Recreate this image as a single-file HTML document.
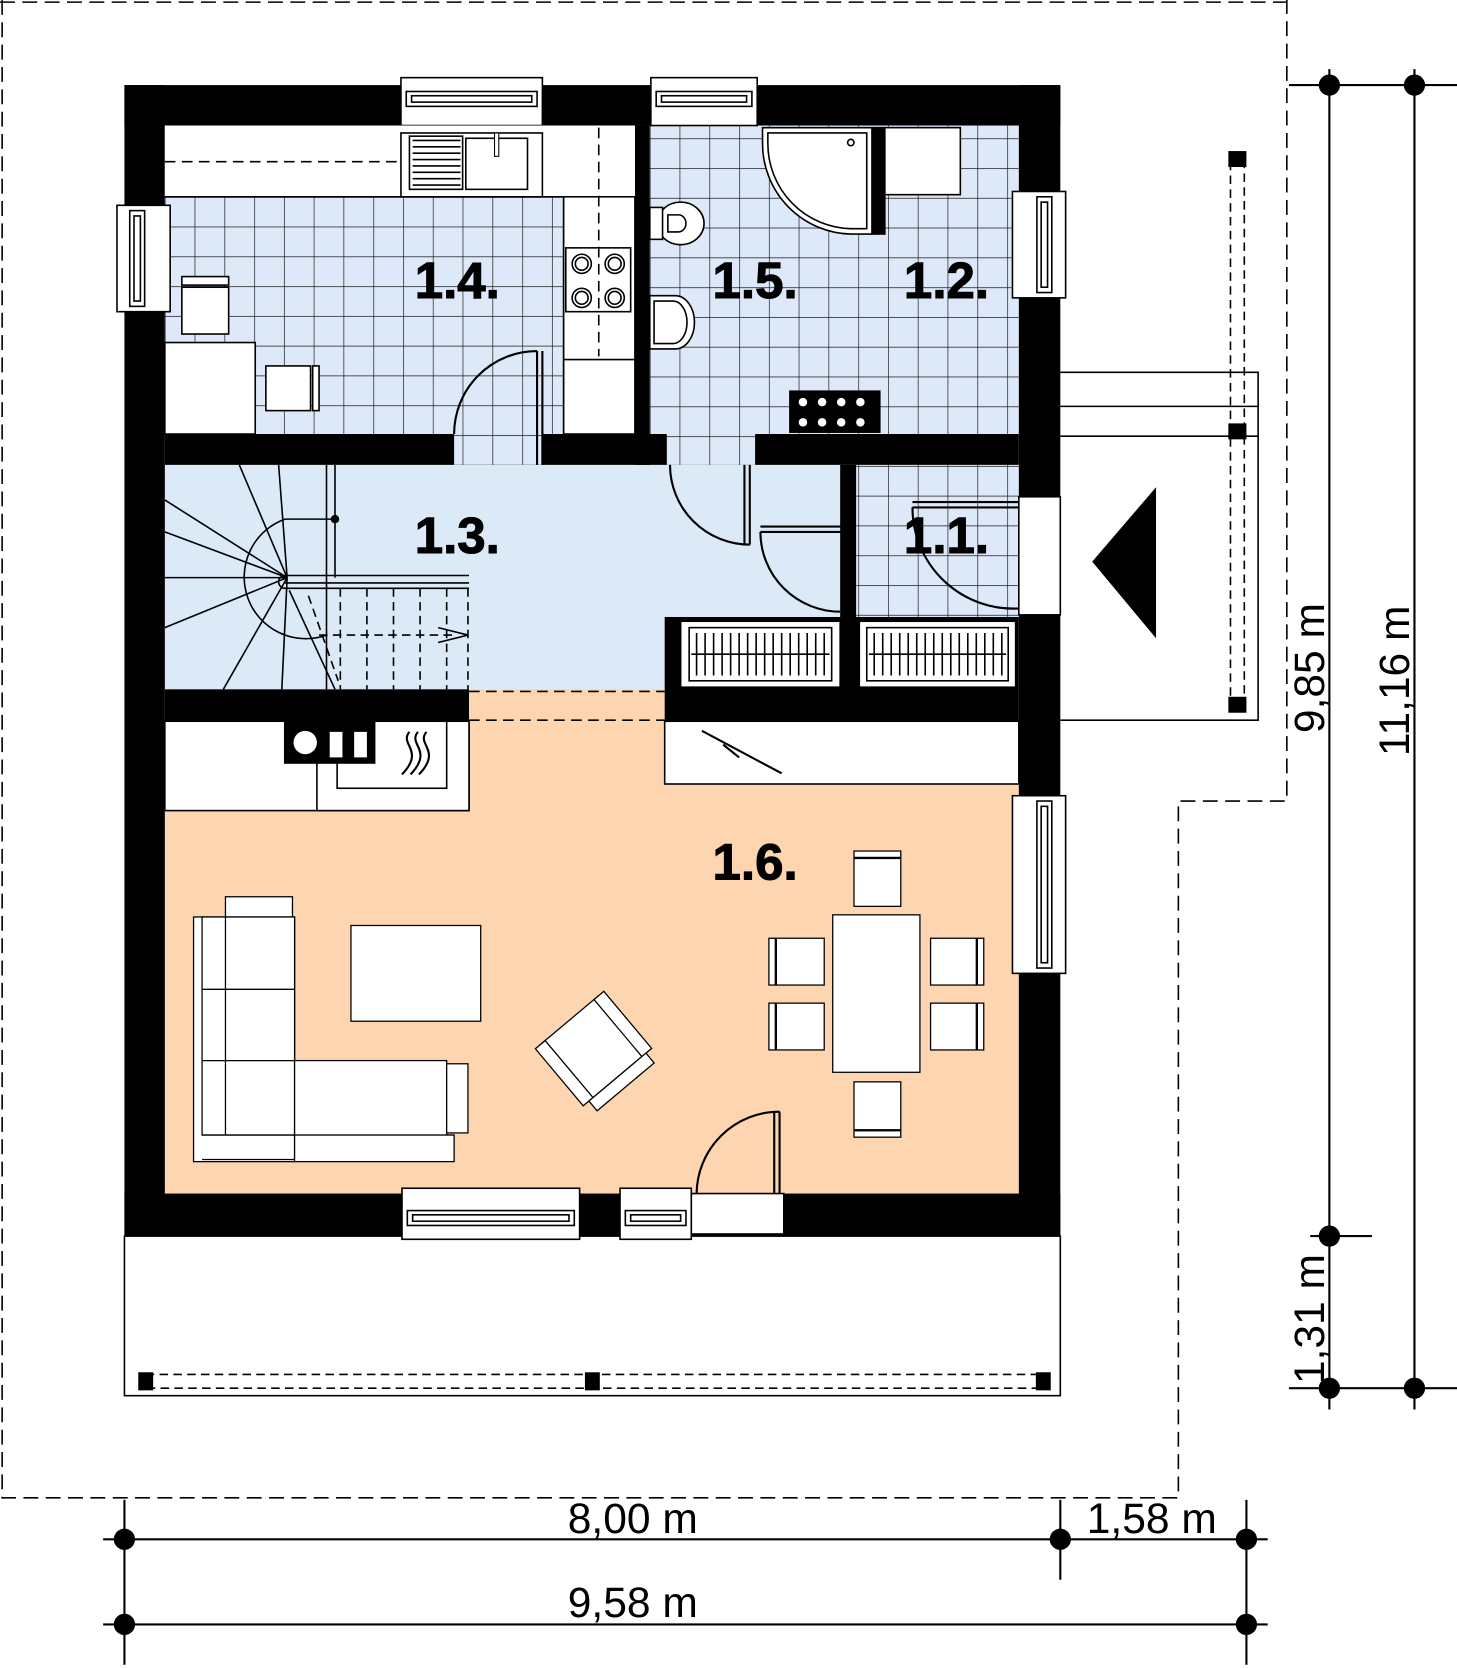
<!DOCTYPE html>
<html><head><meta charset="utf-8"><style>
html,body{margin:0;padding:0;background:#fff;}
svg{display:block;}
text{font-family:"Liberation Sans",sans-serif;}
</style></head><body>
<svg width="1457" height="1668" viewBox="0 0 1370 1568" preserveAspectRatio="none" xmlns="http://www.w3.org/2000/svg">
<defs>
<pattern id="tile" x="155" y="185" width="28" height="28" patternUnits="userSpaceOnUse">
<rect width="28" height="28" fill="#dde9f8"/>
<path d="M0 0H28M0 0V28" stroke="#1a1a1a" stroke-width="1.3" fill="none"/>
</pattern>
<pattern id="tile2" x="611" y="130" width="28" height="28" patternUnits="userSpaceOnUse">
<rect width="28" height="28" fill="#dde9f8"/>
<path d="M0 0H28M0 0V28" stroke="#1a1a1a" stroke-width="1.3" fill="none"/>
</pattern>
</defs>
<g fill="none" stroke="#000" stroke-width="1.5" stroke-dasharray="14,7">
<path d="M2 0V1408H1108V753H1210V0"/>
<path d="M0 2H1210"/>
</g>
<!-- floors -->
<rect x="155" y="118" width="442" height="290" fill="url(#tile)"/>
<rect x="611" y="118" width="347" height="290" fill="url(#tile2)"/>
<rect x="155" y="437" width="640" height="211" fill="#dce9f7"/>
<rect x="805" y="437" width="153" height="145" fill="url(#tile2)"/>
<rect x="155" y="648" width="803" height="474" fill="#fdd5b0"/>
<rect x="441" y="648" width="184" height="30" fill="#fdd5b0"/>
<!-- terrace -->
<rect x="117" y="1162" width="880" height="150" fill="#fff" stroke="#000" stroke-width="1.5"/>
<rect x="137" y="1292" width="843" height="13" fill="none" stroke="#000" stroke-width="1.5" stroke-dasharray="8,5"/>
<rect x="130" y="1290" width="14" height="17" fill="#000"/><rect x="550" y="1290" width="14" height="17" fill="#000"/><rect x="974" y="1290" width="14" height="17" fill="#000"/>
<!-- porch right -->
<g stroke="#000" stroke-width="1.5" fill="none">
<path d="M997 350H1183V677H997M997 382H1183M997 410H1183"/>
<rect x="1157" y="150" width="13" height="512" stroke-dasharray="8,5"/>
</g>
<rect x="1155" y="142" width="17" height="15" fill="#000"/><rect x="1155" y="398" width="17" height="15" fill="#000"/><rect x="1155" y="655" width="17" height="15" fill="#000"/>
<polygon points="1087,458 1087,600 1027,528" fill="#000"/>
<!-- walls -->
<g fill="#000">
<rect x="117" y="80" width="880" height="38"/>
<rect x="117" y="1122" width="880" height="40"/>
<rect x="117" y="80" width="38" height="1082"/>
<rect x="958" y="80" width="39" height="1082"/>
<rect x="155" y="408" width="803" height="29"/>
<rect x="597" y="118" width="14" height="319"/>
<rect x="790" y="437" width="15" height="145"/>
<rect x="155" y="648" width="286" height="30"/>
<rect x="625" y="580" width="333" height="98"/>
</g>
<!-- door openings in walls -->
<rect x="427" y="408" width="83" height="29" fill="url(#tile)"/>
<rect x="627" y="408" width="83" height="29" fill="url(#tile2)"/>
<rect x="958" y="467" width="39" height="111" fill="#fff" stroke="#000" stroke-width="1.5"/>
<rect x="650" y="1122" width="87" height="38" fill="#fff" stroke="#000" stroke-width="1.5"/>
<g fill="none" stroke="#000" stroke-width="2">
<path d="M441 650H625M441 677H625" stroke-dasharray="10,6" stroke-width="1.5"/>
<path d="M505 330V437M510 330V437M505 330A78 78 0 0 0 427 408"/>
<path d="M705 437V512M700 437V512M705 512A75 75 0 0 1 630 437"/>
<path d="M715 495H800M715 500H800M715 500A75 75 0 0 0 790 575"/>
<path d="M858 472H958M858 477H958M858 477A95 95 0 0 0 958 572"/>
<path d="M733 1045V1122M728 1045V1122M733 1045A78 78 0 0 0 655 1122"/>
</g>
<!-- windows -->
<g fill="#fff" stroke="#000" stroke-width="1.5">
<rect x="377" y="73" width="133" height="45"/><rect x="382" y="86" width="123" height="14"/><rect x="387" y="90" width="113" height="6"/>
<rect x="612" y="73" width="100" height="45"/><rect x="617" y="86" width="90" height="14"/><rect x="622" y="90" width="80" height="6"/>
<rect x="110" y="193" width="50" height="100"/><rect x="122" y="198" width="14" height="90"/><rect x="126" y="203" width="6" height="80"/>
<rect x="952" y="180" width="50" height="100"/><rect x="975" y="185" width="14" height="90"/><rect x="979" y="190" width="6" height="80"/>
<rect x="952" y="748" width="50" height="167"/><rect x="975" y="753" width="14" height="157"/><rect x="979" y="758" width="6" height="147"/>
<rect x="378" y="1117" width="167" height="48"/><rect x="383" y="1138" width="157" height="14"/><rect x="388" y="1142" width="147" height="6"/>
<rect x="583" y="1117" width="67" height="48"/><rect x="588" y="1138" width="57" height="14"/><rect x="593" y="1142" width="47" height="6"/>
</g>
<!-- kitchen -->
<g fill="#fff" stroke="#000" stroke-width="1.5">
<rect x="155" y="118" width="442" height="67" stroke="none"/>
<path d="M155 185H530V408M530 185H597" fill="none"/>
<rect x="530" y="185" width="67" height="223"/>
<rect x="377" y="125" width="133" height="60"/>
<rect x="438" y="130" width="58" height="48"/>
<rect x="155" y="322" width="85" height="86"/>
<rect x="171" y="260" width="44" height="8"/><rect x="171" y="270" width="44" height="44"/>
<rect x="250" y="344" width="42" height="42"/><rect x="294" y="344" width="6" height="42"/>
<rect x="532" y="233" width="61" height="60"/>
<path d="M530 338H597" fill="none"/>
</g>
<path d="M388 132H433M388 138H433M388 144H433M388 150H433M388 156H433M388 162H433M388 168H433M388 174H433" stroke="#000" stroke-width="1.5"/>
<rect x="385" y="128" width="50" height="50" fill="none" stroke="#000" stroke-width="1.5"/>
<rect x="465" y="125" width="4" height="22" fill="#fff" stroke="#000"/>
<path d="M155 152H377M563 120V335" stroke="#000" stroke-width="1.5" stroke-dasharray="10,6"/>
<g fill="#fff" stroke="#000" stroke-width="1.5">
<circle cx="547" cy="248" r="9"/><circle cx="547" cy="248" r="6"/>
<circle cx="578" cy="248" r="9"/><circle cx="578" cy="248" r="6"/>
<circle cx="547" cy="280" r="9"/><circle cx="547" cy="280" r="6"/>
<circle cx="578" cy="280" r="9"/><circle cx="578" cy="280" r="6"/>
</g>
<!-- bathroom -->
<g fill="#fff" stroke="#000" stroke-width="1.5">
<path d="M717 120H820V220H800A85 85 0 0 1 717 135Z"/>
<path d="M722 125H815V215H800A80 80 0 0 1 722 135Z"/>
<rect x="820" y="120" width="12" height="100" fill="#000"/>
<rect x="832" y="120" width="71" height="63"/>
<ellipse cx="640" cy="210" rx="22" ry="20"/>
<rect x="611" y="195" width="12" height="30"/>
<path d="M628 202H638A7 8 0 0 1 638 218H628Z"/>
<path d="M611 278H635A18 25 0 0 1 635 328H611Z"/>
<path d="M615 283H633A13 20 0 0 1 633 323H615Z"/>
<circle cx="800" cy="134" r="3"/>
</g>
<rect x="742" y="367" width="86" height="40" fill="#000"/>
<g fill="#fff"><circle cx="755" cy="378" r="4"/><circle cx="773" cy="378" r="4"/><circle cx="791" cy="378" r="4"/><circle cx="809" cy="378" r="4"/><circle cx="755" cy="397" r="4"/><circle cx="773" cy="397" r="4"/><circle cx="791" cy="397" r="4"/><circle cx="809" cy="397" r="4"/></g>
<!-- shoe cabinets -->
<g fill="#fff" stroke="#000" stroke-width="1.5">
<rect x="640" y="584" width="150" height="62"/><rect x="648" y="590" width="134" height="50"/>
<rect x="808" y="584" width="147" height="62"/><rect x="815" y="590" width="133" height="50"/>
</g>
<path d="M655 595V635M663 595V635M671 595V635M679 595V635M687 595V635M695 595V635M703 595V635M711 595V635M719 595V635M727 595V635M735 595V635M743 595V635M751 595V635M759 595V635M767 595V635M775 595V635M822 595V635M830 595V635M838 595V635M846 595V635M854 595V635M862 595V635M870 595V635M878 595V635M886 595V635M894 595V635M902 595V635M910 595V635M918 595V635M926 595V635M934 595V635M942 595V635M650 615H780M817 615H946" stroke="#000" stroke-width="1.5"/>
<!-- stairs -->
<g fill="none" stroke="#000" stroke-width="1.5">
<path d="M270 543L155 470M270 543L155 500M270 543L155 543M270 543L155 590M270 543L210 648M270 543L265 648M270 543L225 437M270 543L262 437M307 437V648"/>
<path d="M315 437V543M268 488H315"/>
<path d="M268 488A55 55 0 0 0 307 597"/>
<path d="M268 541H441M268 548H441M268 553H441M268 541A6 6 0 0 0 268 553"/>
<path d="M272 555L315 648" />
<path d="M290 560L318 640M300 597H430M320 553V648M345 553V648M370 553V648M395 553V648M420 553V648M440 553V648" stroke-dasharray="8,5"/>
<path d="M412 590L440 597L412 604"/>
</g>
<circle cx="315" cy="488" r="4" fill="#000"/>
<!-- fireplace & counters -->
<g fill="#fff" stroke="#000" stroke-width="1.5">
<rect x="155" y="678" width="286" height="84"/>
<rect x="298" y="678" width="143" height="84"/>
<rect x="317" y="678" width="103" height="63"/>
<rect x="625" y="678" width="333" height="59"/>
</g>
<rect x="267" y="678" width="86" height="40" fill="#000"/>
<circle cx="287" cy="698" r="11" fill="#fff"/><rect x="310" y="688" width="12" height="24" fill="#fff"/><rect x="333" y="688" width="12" height="24" fill="#fff"/>
<path d="M385 688C375 700 400 705 378 728M393 688C383 700 408 705 386 728M401 688C391 700 416 705 394 728" fill="none" stroke="#000" stroke-width="2"/>
<path d="M660 687L735 727M680 700L695 712" stroke="#000" stroke-width="2"/>
<!-- living -->
<g fill="#fff" stroke="#000" stroke-width="1.2">
<rect x="212" y="843" width="63" height="22"/>
<rect x="182" y="862" width="95" height="230"/>
<rect x="190" y="862" width="87" height="205"/>
<path d="M190 930H277M190 997H420M212 862V1067M352 997V1092M277 997V1092M190 1067H427M190 1090H427"/>
<rect x="277" y="997" width="143" height="70"/>
<rect x="420" y="1000" width="20" height="65"/>
<rect x="277" y="1067" width="150" height="25"/>
<rect x="330" y="870" width="122" height="90"/>
<g transform="translate(560 988) rotate(-40)">
<rect x="-35" y="-38" width="70" height="70"/><rect x="-42" y="-38" width="12" height="70"/><rect x="30" y="-38" width="12" height="70"/><rect x="-35" y="32" width="70" height="12"/>
</g>
<rect x="783" y="860" width="82" height="148"/>
<rect x="803" y="800" width="44" height="6"/><rect x="803" y="807" width="44" height="45"/>
<rect x="803" y="1017" width="44" height="45"/><rect x="803" y="1063" width="44" height="6"/>
<rect x="730" y="882" width="45" height="44"/><rect x="723" y="882" width="6" height="44"/>
<rect x="730" y="943" width="45" height="44"/><rect x="723" y="943" width="6" height="44"/>
<rect x="875" y="882" width="43" height="44"/><rect x="919" y="882" width="6" height="44"/>
<rect x="875" y="943" width="43" height="44"/><rect x="919" y="943" width="6" height="44"/>
</g>
<!-- room labels -->
<g font-size="48" font-weight="bold" fill="#000" text-anchor="middle" stroke="#000" stroke-width="1">
<text x="430" y="280">1.4.</text>
<text x="710" y="280">1.5.</text>
<text x="890" y="280">1.2.</text>
<text x="430" y="520">1.3.</text>
<text x="890" y="520">1.1.</text>
<text x="710" y="827">1.6.</text>
</g>
<!-- dimensions -->
<g stroke="#000" stroke-width="2" fill="none">
<path d="M97 1447H1192M97 1527H1192M117 1410V1565M997 1410V1485M1172 1410V1565"/>
<path d="M1250 65V1325M1330 65V1325M1212 80H1370M1232 1162H1290M1212 1305H1370"/>
</g>
<g fill="#000">
<circle cx="117" cy="1447" r="10"/><circle cx="997" cy="1447" r="10"/><circle cx="1172" cy="1447" r="10"/>
<circle cx="117" cy="1527" r="10"/><circle cx="1172" cy="1527" r="10"/>
<circle cx="1250" cy="80" r="10"/><circle cx="1330" cy="80" r="10"/>
<circle cx="1250" cy="1162" r="10"/><circle cx="1250" cy="1305" r="10"/><circle cx="1330" cy="1305" r="10"/>
</g>
<g font-size="40" fill="#000" text-anchor="middle">
<text x="595" y="1441">8,00 m</text>
<text x="1083" y="1441">1,58 m</text>
<text x="595" y="1520">9,58 m</text>
<text transform="translate(1245 628) rotate(-90)">9,85 m</text>
<text transform="translate(1325 640) rotate(-90)">11,16 m</text>
<text transform="translate(1245 1240) rotate(-90)">1,31 m</text>
</g>
</svg>
</body></html>
